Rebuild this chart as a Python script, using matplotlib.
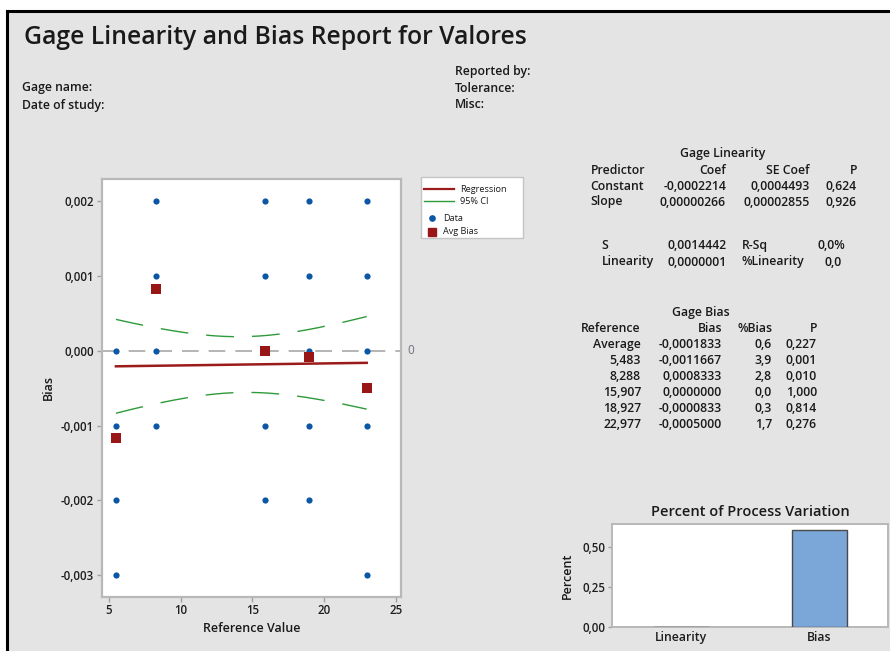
import numpy as np
import matplotlib
matplotlib.use("Agg")
import matplotlib.pyplot as plt
from matplotlib.patches import Rectangle
from matplotlib.lines import Line2D
from matplotlib.ticker import FuncFormatter, FixedLocator

plt.rcParams['font.family'] = ['Open Sans', 'DejaVu Sans']

# ---- study data ----
ref_values = [5.483, 8.288, 15.907, 18.927, 22.977]
ref_labels = ["5,483", "8,288", "15,907", "18,927", "22,977"]
readings_per_part = 12

data_ref = [5.483, 5.483, 5.483, 5.483,
            8.288, 8.288, 8.288, 8.288,
            15.907, 15.907, 15.907, 15.907, 15.907,
            18.927, 18.927, 18.927, 18.927, 18.927,
            22.977, 22.977, 22.977, 22.977, 22.977]
data_bias = [0.0, -0.001, -0.002, -0.003,
             0.002, 0.001, 0.0, -0.001,
             0.002, 0.001, 0.0, -0.001, -0.002,
             0.002, 0.001, 0.0, -0.001, -0.002,
             0.002, 0.001, 0.0, -0.001, -0.003]

avg_bias = [-0.0011667, 0.0008333, 0.0000000, -0.0000833, -0.0005000]
avg_bias_overall = -0.0001833
pct_bias = [3.9, 2.8, 0.0, 0.3, 1.7]
pct_bias_overall = 0.61
p_bias = [0.001, 0.010, 1.000, 0.814, 0.276]
p_bias_overall = 0.227

# regression results
coef_const, se_const, p_const = -0.0002214, 0.0004493, 0.624
coef_slope, se_slope, p_slope = 0.00000266, 0.00002855, 0.926
s_value = 0.0014442
r_sq = 0.0
linearity_value = 0.0000001
pct_linearity = 0.0
t_crit = 2.0017  # t(0.975, 58)

# percent of process variation
pv_categories = ["Linearity", "Bias"]
pv_values = [pct_linearity, pct_bias_overall]

W, H = 890, 651
fig = plt.figure(figsize=(W / 100, H / 100), dpi=100)
fig.patch.set_facecolor("white")

def fx(px):
    return px / W

def fy(py):
    return 1 - py / H

# report background and frame
fig.patches.append(Rectangle((fx(7), 0), 1, fy(11.5), transform=fig.transFigure,
                             facecolor="#e4e4e4", edgecolor="none", zorder=-5))
fig.lines.append(Line2D([fx(6.5), 1], [fy(11), fy(11)], transform=fig.transFigure,
                        color="black", lw=2.2, zorder=-4))
fig.lines.append(Line2D([fx(7), fx(7)], [0, fy(11)], transform=fig.transFigure,
                        color="black", lw=2.2, zorder=-4))

txt = "#1a1a1a"
fig.text(fx(24.5), fy(37), "Gage Linearity and Bias Report for Valores",
         fontsize=17.8, color=txt, va="center", ha="left", fontweight="semibold")
hdr_kw = dict(fontsize=8.8, color=txt, va="center", ha="left", fontweight="semibold")
fig.text(fx(22), fy(88), "Gage name:", **hdr_kw)
fig.text(fx(22), fy(105), "Date of study:", **hdr_kw)
fig.text(fx(455), fy(71), "Reported by:", **hdr_kw)
fig.text(fx(455), fy(88), "Tolerance:", **hdr_kw)
fig.text(fx(455), fy(105), "Misc:", **hdr_kw)

# ---- bias vs reference plot ----
ax = fig.add_axes([fx(101.7), fy(596.7), fx(401) - fx(101.7), fy(179) - fy(596.7)])
ax.set_facecolor("white")
ax.set_xlim(4.49, 25.37)
ax.set_ylim(-0.00329, 0.0023)

ax.axhline(0, color="#a8a8a8", lw=1.2, dashes=(10, 6), zorder=1)

x_fit = np.linspace(ref_values[0], ref_values[-1], 200)
y_fit = coef_const + coef_slope * x_fit
n_obs = readings_per_part * len(ref_values)
x_mean = np.mean(ref_values)
sxx = readings_per_part * np.sum((np.array(ref_values) - x_mean) ** 2)
half = t_crit * s_value * np.sqrt(1 / n_obs + (x_fit - x_mean) ** 2 / sxx)

ci_color = "#2e9a3a"
ax.plot(x_fit, y_fit + half, color=ci_color, lw=1.0, dashes=(20, 13), zorder=2)
ax.plot(x_fit, y_fit - half, color=ci_color, lw=1.0, dashes=(20, 13), zorder=2)
ax.plot(x_fit, y_fit, color="#9b1b1b", lw=1.8, zorder=3)

ax.scatter(data_ref, data_bias, s=20, color="#0b57a6", zorder=4, linewidths=0)
ax.scatter(ref_values, avg_bias, s=48, marker="s", color="#981616", zorder=5, linewidths=0)

ax.text(25.37 + 0.45, 0, "0", fontsize=8.5, color="#6f7080", va="center", ha="left")

comma = FuncFormatter(lambda v, p: f"{v:.3f}".replace(".", ",").replace("−", "-"))
ax.yaxis.set_major_locator(FixedLocator([-0.003, -0.002, -0.001, 0.0, 0.001, 0.002]))
ax.yaxis.set_major_formatter(comma)
ax.xaxis.set_major_locator(FixedLocator([5, 10, 15, 20, 25]))
ax.tick_params(axis="both", direction="out", length=3.5, width=1, color="#a0a0a0",
               labelsize=8.3, labelcolor="#1e1e1e", pad=2)
for lab in ax.get_xticklabels() + ax.get_yticklabels():
    lab.set_fontweight("semibold")
for sp in ax.spines.values():
    sp.set_color("#b8b8b8")
    sp.set_linewidth(1.6)
ax.set_xlabel("Reference Value", fontsize=9, color=txt, fontweight="semibold", labelpad=3)
ax.set_ylabel("Bias", fontsize=9, color=txt, fontweight="semibold", labelpad=4)

# legend panel
fig.patches.append(Rectangle((fx(421), fy(238)), fx(523) - fx(421), fy(177) - fy(238),
                             transform=fig.transFigure, facecolor="white",
                             edgecolor="#c4c4c4", lw=1, zorder=2))
leg_kw = dict(fontsize=6.6, color=txt, va="center", ha="left", zorder=3)
fig.lines.append(Line2D([fx(423.5), fx(454)], [fy(189), fy(189)], transform=fig.transFigure,
                        color="#9b1b1b", lw=1.6, zorder=3))
fig.text(fx(460.5), fy(189), "Regression", **leg_kw)
fig.lines.append(Line2D([fx(423.5), fx(454)], [fy(201), fy(201)], transform=fig.transFigure,
                        color=ci_color, lw=1.0, zorder=3))
fig.text(fx(460.5), fy(201), "95% CI", **leg_kw)
fig.lines.append(Line2D([fx(431.7)], [fy(218.3)], transform=fig.transFigure, marker="o",
                        markersize=3.8, color="#0b57a6", lw=0, zorder=3))
fig.text(fx(443), fy(218.3), "Data", **leg_kw)
fig.lines.append(Line2D([fx(431.7)], [fy(231.7)], transform=fig.transFigure, marker="s",
                        markersize=6, color="#981616", lw=0, zorder=3))
fig.text(fx(443), fy(231.7), "Avg Bias", **leg_kw)

def fmt(v, d):
    return f"{v:.{d}f}".replace(".", ",")

# ---- Gage Linearity table ----
tk = dict(fontsize=8.8, color=txt, va="center", fontweight="semibold")
fig.text(fx(723), fy(154), "Gage Linearity", ha="center", **tk)
fig.text(fx(590.5), fy(170), "Predictor", ha="left", **tk)
fig.text(fx(726), fy(170), "Coef", ha="right", **tk)
fig.text(fx(810), fy(170), "SE Coef", ha="right", **tk)
fig.text(fx(857), fy(170), "P", ha="right", **tk)
rows = [("Constant", coef_const, 7, se_const, 7, p_const, 186),
        ("Slope", coef_slope, 8, se_slope, 8, p_slope, 202)]
for name, c, cd, se, sd, p, yy in rows:
    fig.text(fx(590.5), fy(yy), name, ha="left", **tk)
    fig.text(fx(726), fy(yy), fmt(c, cd), ha="right", **tk)
    fig.text(fx(810), fy(yy), fmt(se, sd), ha="right", **tk)
    fig.text(fx(857), fy(yy), fmt(p, 3), ha="right", **tk)

fig.text(fx(601.5), fy(246), "S", ha="left", **tk)
fig.text(fx(727), fy(246), fmt(s_value, 7), ha="right", **tk)
fig.text(fx(741.5), fy(246), "R-Sq", ha="left", **tk)
fig.text(fx(845), fy(246), fmt(r_sq, 1) + "%", ha="right", **tk)
fig.text(fx(601.5), fy(262), "Linearity", ha="left", **tk)
fig.text(fx(727), fy(262), fmt(linearity_value, 7), ha="right", **tk)
fig.text(fx(741.5), fy(262), "%Linearity", ha="left", **tk)
fig.text(fx(842), fy(262), fmt(pct_linearity, 1), ha="right", **tk)

# ---- Gage Bias table ----
fig.text(fx(701), fy(313), "Gage Bias", ha="center", **tk)
fig.text(fx(641), fy(328), "Reference", ha="right", **tk)
fig.text(fx(722), fy(328), "Bias", ha="right", **tk)
fig.text(fx(772), fy(328), "%Bias", ha="right", **tk)
fig.text(fx(817), fy(328), "P", ha="right", **tk)
bias_rows = [("Average", avg_bias_overall, pct_bias_overall, p_bias_overall)]
bias_rows += list(zip(ref_labels, avg_bias, pct_bias, p_bias))
row_y = [344.5, 361, 376, 392, 408.3, 424.3]
for (lab, b, pb, pp), yy in zip(bias_rows, row_y):
    fig.text(fx(641), fy(yy), lab, ha="right", **tk)
    fig.text(fx(722), fy(yy), fmt(b, 7), ha="right", **tk)
    fig.text(fx(772), fy(yy), fmt(pb, 1), ha="right", **tk)
    fig.text(fx(817), fy(yy), fmt(pp, 3), ha="right", **tk)

# ---- Percent of process variation ----
bx = fig.add_axes([fx(612.3), fy(627.3), fx(888) - fx(612.3), fy(524.3) - fy(627.3)])
bx.set_facecolor("white")
bx.bar(range(len(pv_categories)), pv_values, width=0.4, color="#7ba6d8",
       edgecolor="#4a4a4a", linewidth=1, zorder=3)
bx.set_xlim(-0.5, 1.5)
bx.set_ylim(0, 0.644)
bx.set_xticks(range(len(pv_categories)))
bx.set_xticklabels(pv_categories)
bx.yaxis.set_major_locator(FixedLocator([0.0, 0.25, 0.5]))
bx.yaxis.set_major_formatter(FuncFormatter(lambda v, p: f"{v:.2f}".replace(".", ",")))
bx.tick_params(axis="both", direction="out", length=3, width=1, color="#a0a0a0",
               labelsize=8.3, labelcolor="#1e1e1e", pad=2)
bx.tick_params(axis="x", length=0, pad=3, labelsize=8.8)
for lab in bx.get_xticklabels() + bx.get_yticklabels():
    lab.set_fontweight("semibold")
for sp in bx.spines.values():
    sp.set_color("#b8b8b8")
    sp.set_linewidth(1.4)
bx.set_ylabel("Percent", fontsize=9, color=txt, fontweight="semibold", labelpad=6)
bx.set_title("Percent of Process Variation", fontsize=10.5, color=txt, pad=6,
             fontweight="semibold")

fig.savefig("out.png", dpi=100, facecolor=fig.get_facecolor())
